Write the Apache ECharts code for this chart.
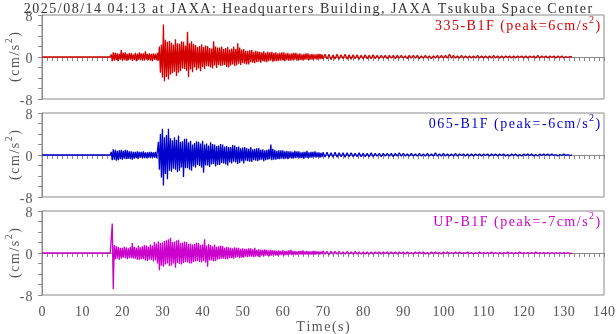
<!DOCTYPE html>
<html>
<head>
<meta charset="utf-8">
<script src="https://cdn.jsdelivr.net/npm/echarts@6/dist/echarts.min.js"></script>
<style>
  html, body { margin: 0; padding: 0; background: #fff; }
  #chart { width: 616px; height: 334px; }
</style>
</head>
<body>
<div id="chart"></div>
<script>
// Strong-motion record, three components, acceleration in cm/s^2.
// Main part: samples from MAIN_T0 every MAIN_DT seconds.
// Coda: samples from CODA_T0 every CODA_DT seconds. Before MAIN_T0 the record is flat.
const MAIN_T0 = 17.0, MAIN_DT = 0.25;
const CODA_T0 = 70.0, CODA_DT = 0.5;

const stationTitle = '2025/08/14 04:13 at JAXA: Headquarters Building, JAXA Tsukuba Space Center';
const componentNames = ['335-B1F', '065-B1F', 'UP-B1F'];
const componentPeaks = [6, -6, -7];
const xTicks = [0, 10, 20, 30, 40, 50, 60, 70, 80, 90, 100, 110, 120, 130, 140];
const yTicks = [-8, 0, 8];

// 335-B1F, 17.00 - 69.75 s
const acc335Main = [
  0, 0.5, -0.8, 0.9,   -0.7, 0.8, -0.6, 0.7,   -0.8, 0.6, -0.5, 1.3,   -0.7, 0.8, -0.6, 0.9,   -0.7, 0.6, -0.6, 0.8,
  -0.5, 0.7, -0.7, 0.5,   -0.6, 0.8, -0.8, 0.6,   -0.5, 0.9, -0.6, 0.7,   -0.6, 0.7, -0.7, 1.1,   -0.5, 0.6, -0.6, 0.7,
  -0.7, 0.6, -0.8, 0.7,   -0.5, 0.6, -0.6, 0.8,   -0.7, 2.0, -3.0, 2.4,   -3.9, 6.2, -4.6, 3.3,   -3.8, 2.9, -4.3, 3.1,
  -3.4, 2.7, -3.1, 2.4,   -2.8, 3.4, -3.6, 2.6,   -3.0, 2.5, -2.7, 3.0,   -2.2, 2.9, -2.3, 2.2,   -2.6, 4.8, -3.8, 2.6,
  -2.4, 3.0, -2.9, 2.5,   -2.0, 2.3, -2.5, 1.9,   -2.2, 2.1, -2.7, 2.4,   -1.9, 1.9, -2.3, 2.2,   -1.7, 2.1, -1.8, 1.7,
  -2.0, 1.6, -2.2, 3.0,   -1.6, 2.0, -2.1, 1.8,   -1.5, 1.8, -1.7, 2.0,   -1.6, 1.5, -1.5, 1.7,   -1.9, 1.9, -2.0, 1.4,
  -1.6, 1.6, -1.4, 2.0,   -1.7, 1.5, -1.6, 2.6,   -1.3, 1.8, -1.5, 1.4,   -1.2, 1.5, -1.3, 1.2,   -1.4, 1.2, -1.4, 1.3,
  -1.0, 1.3, -1.1, 1.0,   -1.2, 1.2, -1.0, 1.1,   -0.9, 1.0, -1.1, 0.9,   -0.8, 1.1, -0.9, 0.8,   -1.0, 1.0, -0.8, 0.9,
  -0.7, 1.0, -0.9, 0.8,   -0.8, 0.9, -0.8, 0.7,   -0.7, 0.8, -0.7, 0.9,   -0.6, 0.9, -0.8, 0.7,   -0.6, 0.8, -0.7, 0.6,
  -0.7, 0.7, -0.6, 0.8,   -0.5, 0.8, -0.7, 0.6,   -0.6, 0.7, -0.6, 0.5,   -0.6, 0.6, -0.5, 0.7,   -0.5, 0.7, -0.6, 0.5,
  -0.5, 0.6, -0.5, 0.5,   -0.4, 0.5, -0.5, 0.6,   -0.4, 0.6, -0.4, 0.5
];
// 335-B1F, 70.0 - 132.0 s
const acc335Coda = [
  -0.4, 0.5, -0.4, 0.5, -0.5, 0.4, -0.4, 0.5, -0.4, 0.4,
  -0.3, 0.5, -0.4, 0.4, -0.4, 0.4, -0.3, 0.4, -0.4, 0.3,
  -0.3, 0.4, -0.3, 0.3, -0.3, 0.4, -0.3, 0.3, -0.3, 0.3,
  -0.2, 0.3, -0.3, 0.3, -0.2, 0.3, -0.3, 0.3, -0.2, 0.3,
  -0.2, 0.2, -0.3, 0.3, -0.2, 0.3, -0.2, 0.3, -0.3, 0.2,
  -0.2, 0.3, -0.2, 0.2, -0.3, 0.2, -0.2, 0.3, -0.2, 0.3,
  -0.2, 0.3, -0.2, 0.5, -0.2, 0.3, -0.2, 0.2, -0.2, 0.3,
  -0.2, 0.2, -0.2, 0.2, -0.2, 0.2, -0.2, 0.3, -0.2, 0.2,
  -0.2, 0.2, -0.2, 0.2, -0.2, 0.3, -0.2, 0.2, -0.2, 0.2,
  -0.2, 0.2, -0.1, 0.2, -0.2, 0.2, -0.2, 0.2, -0.1, 0.2,
  -0.2, 0.2, -0.2, 0.2, -0.1, 0.2, -0.2, 0.3, -0.2, 0.2,
  -0.1, 0.2, -0.2, 0.2, -0.1, 0.2, -0.2, 0.2, -0.1, 0.2,
  -0.2, 0.1, -0.1, 0.1, 0
];

// 065-B1F, 17.00 - 69.75 s
const acc065Main = [
  0, 0.6, -1.0, 1.1,   -0.9, 1.0, -1.1, 0.8,   -1.0, 0.9, -0.8, 1.0,   -0.9, 0.8, -0.7, 1.0,   -0.8, 0.9, -0.7, 0.7,
  -0.8, 0.7, -0.9, 0.6,   -0.7, 0.6, -0.6, 0.7,   -0.7, 0.6, -0.5, 0.6,   -0.6, 0.7, -0.6, 0.5,   -0.6, 0.5, -0.5, 0.6,
  -0.6, 0.6, -0.5, 0.5,   -0.5, 0.6, -0.6, 0.7,   2.5, -2.8, 4.0, -4.3,   5.0, -5.8, 3.4, -3.6,   3.8, -4.6, 5.0, -3.0,
  3.2, -3.2, 2.8, -2.6,   3.4, -2.8, 2.9, -3.3,   3.7, -3.0, 2.5, -2.4,   2.6, -4.2, 3.1, -2.5,   3.1, -2.5, 2.4, -2.8,
  2.7, -3.0, 2.0, -2.2,   2.3, -2.4, 2.6, -1.9,   2.5, -2.1, 2.2, -2.4,   2.7, -3.4, 2.0, -2.0,   2.2, -2.0, 1.8, -2.3,
  2.4, -1.8, 2.1, -1.7,   2.0, -2.2, 1.7, -1.9,   1.8, -1.9, 2.1, -1.5,   2.0, -1.6, 1.6, -1.8,   1.7, -2.0, 1.5, -1.4,
  1.5, -1.6, 1.9, -1.3,   1.8, -1.4, 1.5, -1.7,   1.6, -1.5, 1.3, -1.2,   1.4, -1.6, 1.5, -1.1,   1.3, -1.2, 1.2, -1.3,
  1.5, -1.3, 1.1, -1.0,   1.2, -1.1, 1.3, -1.2,   1.3, -1.0, 1.0, -0.9,   1.1, -1.2, 0.9, -1.0,   1.0, -0.9, 1.1, -0.8,
  2.0, -1.0, 1.2, -0.9,   1.0, -0.9, 0.8, -0.8,   0.9, -0.8, 0.9, -0.7,   0.9, -0.8, 0.7, -0.7,   0.8, -0.8, 0.7, -0.6,
  0.7, -0.7, 0.6, -0.6,   0.8, -0.6, 0.7, -0.5,   0.7, -0.6, 0.5, -0.6,   0.6, -0.7, 0.6, -0.5,   0.8, -0.6, 0.5, -0.5,
  0.6, -0.5, 0.6, -0.4,   0.7, -0.5, 0.5, -0.4,   0.5, -0.5, 0.4, -0.4
];
// 065-B1F, 70.0 - 132.0 s
const acc065Coda = [
  0.5, -0.4, 0.5, -0.4, 0.4, -0.4, 0.5, -0.4, 0.4, -0.3,
  0.4, -0.4, 0.4, -0.3, 0.4, -0.3, 0.3, -0.3, 0.4, -0.3,
  0.3, -0.3, 0.3, -0.3, 0.4, -0.3, 0.3, -0.2, 0.3, -0.3,
  0.3, -0.2, 0.3, -0.2, 0.3, -0.3, 0.3, -0.2, 0.4, -0.2,
  0.3, -0.2, 0.2, -0.2, 0.3, -0.2, 0.2, -0.2, 0.3, -0.2,
  0.2, -0.2, 0.3, -0.2, 0.2, -0.2, 0.4, -0.2, 0.2, -0.2,
  0.3, -0.2, 0.2, -0.2, 0.2, -0.2, 0.3, -0.2, 0.2, -0.1,
  0.2, -0.2, 0.2, -0.2, 0.2, -0.2, 0.2, -0.1, 0.2, -0.2,
  0.2, -0.1, 0.2, -0.2, 0.2, -0.1, 0.2, -0.2, 0.2, -0.1,
  0.2, -0.2, 0.1, -0.2, 0.2, -0.1, 0.2, -0.2, 0.1, -0.2,
  0.2, -0.1, 0.2, -0.1, 0.2, -0.2, 0.1, -0.2, 0.2, -0.1,
  0.2, -0.1, 0.2, -0.1, 0.2, -0.1, 0.1, -0.2, 0.1, -0.1,
  0.2, -0.1, 0.1, -0.1, 0
];

// UP-B1F, 17.00 - 69.75 s
const accUPMain = [
  0, 0.3, 5.6, -6.9,   1.5, -1.2, 1.3, -1.1,   1.2, -1.3, 1.0, -1.1,   1.0, -0.9, 1.2, -1.0,   1.1, -1.2, 0.9, -1.0,
  1.2, -1.0, 1.9, -1.1,   1.2, -1.1, 1.0, -1.3,   1.4, -1.3, 1.1, -1.2,   1.3, -1.2, 1.5, -1.4,   1.4, -1.5, 1.2, -1.3,
  1.6, -1.3, 1.4, -1.6,   2.1, -1.4, 1.8, -2.0,   2.2, -3.3, 1.9, -2.4,   2.0, -2.6, 2.3, -2.2,   2.4, -2.0, 2.6, -2.5,
  2.9, -2.4, 2.1, -2.0,   2.2, -2.8, 2.4, -1.9,   2.5, -2.1, 1.9, -2.2,   2.0, -1.9, 2.2, -1.7,   2.1, -1.8, 1.7, -2.0,
  1.8, -2.0, 1.6, -1.7,   1.7, -1.6, 2.0, -1.5,   1.9, -1.7, 1.5, -1.8,   1.6, -1.5, 2.6, -1.8,   1.4, -2.6, 1.7, -1.4,
  1.5, -1.4, 1.3, -1.6,   1.6, -1.5, 1.2, -1.3,   1.3, -1.2, 1.4, -1.1,   1.3, -1.1, 1.0, -1.2,   1.2, -1.2, 1.1, -1.0,
  1.0, -1.0, 0.9, -1.1,   1.1, -0.9, 1.0, -0.8,   1.0, -1.0, 0.8, -0.9,   0.9, -0.9, 0.8, -0.7,   0.8, -0.8, 0.9, -0.7,
  0.9, -0.7, 0.7, -0.8,   1.0, -0.7, 0.6, -0.6,   0.7, -0.8, 0.6, -0.5,   0.6, -0.6, 0.7, -0.5,   0.6, -0.5, 0.5, -0.6,
  0.6, -0.5, 0.5, -0.4,   0.5, -0.5, 0.4, -0.5,   0.5, -0.4, 0.4, -0.4,   0.5, -0.5, 0.4, -0.4,   0.4, -0.4, 0.5, -0.3,
  0.6, -0.4, 0.4, -0.3,   0.4, -0.4, 0.3, -0.3,   0.4, -0.3, 0.4, -0.3,   0.5, -0.3, 0.3, -0.3,   0.4, -0.3, 0.3, -0.3,
  0.3, -0.3, 0.4, -0.3,   0.4, -0.3, 0.3, -0.2,   0.3, -0.3, 0.3, -0.2
];
// UP-B1F, 70.0 - 132.0 s
const accUPCoda = [
  0.4, -0.2, 0.3, -0.3, 0.3, -0.2, 0.3, -0.2, 0.3, -0.2,
  0.2, -0.2, 0.3, -0.2, 0.2, -0.2, 0.3, -0.2, 0.2, -0.2,
  0.2, -0.2, 0.2, -0.2, 0.2, -0.2, 0.2, -0.1, 0.2, -0.2,
  0.2, -0.1, 0.2, -0.2, 0.2, -0.1, 0.2, -0.2, 0.2, -0.1,
  0.2, -0.2, 0.2, -0.1, 0.1, -0.2, 0.2, -0.1, 0.2, -0.1,
  0.2, -0.2, 0.1, -0.2, 0.2, -0.1, 0.2, -0.1, 0.1, -0.2,
  0.2, -0.1, 0.2, -0.1, 0.1, -0.1, 0.2, -0.1, 0.2, -0.1,
  0.1, -0.1, 0.2, -0.1, 0.1, -0.2, 0.1, -0.1, 0.2, -0.1,
  0.1, -0.1, 0.1, -0.1, 0.2, -0.1, 0.1, -0.1, 0.1, -0.2,
  0.1, -0.1, 0.2, -0.1, 0.1, -0.1, 0.1, -0.1, 0.2, -0.1,
  0.1, -0.1, 0.1, -0.1, 0.1, -0.1, 0.2, -0.1, 0.1, -0.1,
  0.1, -0.1, 0.1, -0.1, 0.1, -0.1, 0.1, -0.1, 0.1, -0.1,
  0.1, -0.1, 0.1, -0.1, 0
];

const traces = [
  { main: acc335Main, coda: acc335Coda },
  { main: acc065Main, coda: acc065Coda },
  { main: accUPMain, coda: accUPCoda }
];
const traceColors = ['#d40000', '#0000cc', '#cc00cc'];

function toPoints(tr) {
  const pts = [[0, 0]];
  tr.main.forEach(function (v, i) { pts.push([MAIN_T0 + i * MAIN_DT, v]); });
  tr.coda.forEach(function (v, i) { pts.push([CODA_T0 + i * CODA_DT, v]); });
  return pts;
}

// Text is set with a little tracking: each character becomes its own rich token.
function tracked(str, styleName) {
  return str.split('').map(function (ch) { return '{' + styleName + '|' + ch + '}'; }).join('');
}
function unitText(styleName) {
  return tracked('(cm/s', styleName) + '{' + styleName + 'Sup|2}' + tracked(')', styleName);
}

const FONT = '"Liberation Serif", "Times New Roman", serif';
const AXIS_GRAY = '#8a8a8a';
const LABEL_GRAY = '#555';
const TRACK = 0.75;

function richPair(name, color, size, track) {
  const t = track === undefined ? TRACK : track;
  const r = {};
  r[name] = { fontFamily: FONT, fontSize: size, fontWeight: 'normal', color: color, lineHeight: 18, verticalAlign: 'bottom', padding: [0, t, 0, t] };
  r[name + 'Sup'] = { fontFamily: FONT, fontSize: 10, fontWeight: 'normal', color: color, lineHeight: 18, verticalAlign: 'top', padding: [0, t, 0, t] };
  return r;
}

const gridTops = [15, 113, 211];
const grids = gridTops.map(function (top) {
  return { left: 42, right: 12, top: top, height: 84, outerBoundsMode: 'none', containLabel: false,
           show: true, borderColor: AXIS_GRAY, borderWidth: 1, backgroundColor: 'transparent' };
});

const xAxes = gridTops.map(function (_, k) {
  const last = k === gridTops.length - 1;
  return {
    type: 'value', gridIndex: k, min: xTicks[0], max: xTicks[xTicks.length - 1], interval: 10,
    axisLine: { lineStyle: { color: AXIS_GRAY } },
    axisTick: { show: true, length: 4, lineStyle: { color: AXIS_GRAY } },
    minorTick: { show: true, splitNumber: 8, length: 4, lineStyle: { color: AXIS_GRAY } },
    splitLine: { show: false },
    axisLabel: {
      show: last, margin: 6,
      formatter: function (v) { return tracked(String(v), 't'); },
      rich: richPair('t', LABEL_GRAY, 14, 0.25)
    },
    name: last ? tracked('Time(s)', 'n') : '',
    nameLocation: 'middle', nameGap: 21, nameMoveOverlap: false,
    nameTextStyle: { rich: richPair('n', LABEL_GRAY, 14) }
  };
});

const yAxes = gridTops.map(function (_, k) {
  return {
    type: 'value', gridIndex: k, min: yTicks[0], max: yTicks[yTicks.length - 1], interval: 8,
    axisLine: { lineStyle: { color: AXIS_GRAY } },
    axisTick: { show: true, length: 4, lineStyle: { color: AXIS_GRAY } },
    minorTick: { show: true, splitNumber: 4, length: 4, lineStyle: { color: AXIS_GRAY } },
    splitLine: { show: false },
    axisLabel: {
      margin: 9,
      formatter: function (v) { return tracked(String(v), 't'); },
      rich: richPair('t', LABEL_GRAY, 14, 0.5)
    },
    name: unitText('n'),
    nameLocation: 'middle', nameGap: 20, nameRotate: 90, nameMoveOverlap: false,
    nameTextStyle: { rich: richPair('n', LABEL_GRAY, 14) }
  };
});

const titles = [{
  text: tracked(stationTitle, 'h'), left: 'center', top: -2, padding: 0,
  textStyle: { rich: richPair('h', '#333', 14) }
}].concat(gridTops.map(function (top, k) {
  return {
    text: tracked(componentNames[k] + ' (peak=' + componentPeaks[k] + 'cm/s', 'c') + '{cSup|2}' + tracked(')', 'c'),
    right: 15, top: top, padding: 0,
    textStyle: { rich: richPair('c', traceColors[k], 14) }
  };
}));

const chart = echarts.init(document.getElementById('chart'), null, { renderer: 'canvas' });
chart.setOption({
  animation: false,
  backgroundColor: '#fff',
  title: titles,
  grid: grids,
  xAxis: xAxes,
  yAxis: yAxes,
  series: traces.map(function (tr, k) {
    return {
      type: 'line', xAxisIndex: k, yAxisIndex: k,
      data: toPoints(tr),
      symbol: 'none',
      lineStyle: { color: traceColors[k], width: 1.3 },
      silent: true
    };
  })
});
</script>
</body>
</html>
